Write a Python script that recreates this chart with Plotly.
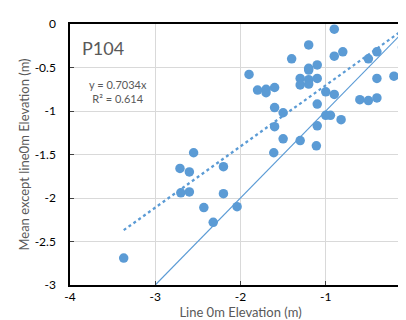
import plotly.graph_objects as go

# Data
line0m_elev = [-0.90, -1.20, -1.40, -0.90, -0.80, -0.50, -0.40, -0.10, -0.01,
               -1.90, -1.20, -1.20, -1.10, -1.30, -1.20, -1.10, -1.30, -1.20,
               -0.40, -0.20, -1.80, -1.70, -1.70, -1.60, -1.00, -0.90, -0.60,
               -0.50, -0.40, -1.60, -1.50, -1.10, -1.00, -0.945, -0.82, -1.60,
               -1.10, -1.50, -1.30, -1.11, -1.61, -2.55, -2.71, -2.60, -2.20,
               -2.70, -2.60, -2.20, -2.43, -2.04, -2.32, -3.37]
mean_except = [-0.06, -0.24, -0.40, -0.37, -0.32, -0.40, -0.32, -0.27, -0.11,
               -0.58, -0.51, -0.53, -0.47, -0.625, -0.64, -0.625, -0.70, -0.69,
               -0.625, -0.60, -0.76, -0.75, -0.79, -0.73, -0.78, -0.81, -0.87,
               -0.88, -0.85, -0.96, -1.02, -0.92, -1.05, -1.05, -1.10, -1.18,
               -1.17, -1.32, -1.34, -1.40, -1.48, -1.48, -1.66, -1.70, -1.64,
               -1.94, -1.93, -1.95, -2.11, -2.10, -2.28, -2.69]

one_to_one_x = [-3, 0]
trend_slope = 0.7034
r_squared = 0.614
site_label = "P104"

x_ticks = [-4, -3, -2, -1, 0]
x_tick_text = ["-4", "-3", "-2", "-1", "0"]
y_ticks = [0, -0.5, -1, -1.5, -2, -2.5, -3]
y_tick_text = ["0", "-0.5", "-1", "-1.5", "-2", "-2.5", "-3"]

blue = "#5B9BD5"
grey_text = "#595959"
font_family = "Lato, Noto Sans, sans-serif"

trend_x = [min(line0m_elev), 0]
trend_y = [trend_slope * v for v in trend_x]

fig = go.Figure()
fig.add_trace(go.Scatter(x=one_to_one_x, y=one_to_one_x, mode="lines",
                         line=dict(color=blue, width=1.2), hoverinfo="skip",
                         showlegend=False))
fig.add_trace(go.Scatter(x=trend_x, y=trend_y, mode="lines",
                         line=dict(color=blue, width=2.2, dash="dot"),
                         hoverinfo="skip", showlegend=False))
fig.add_trace(go.Scatter(x=line0m_elev, y=mean_except, mode="markers",
                         marker=dict(color=blue, size=9.5),
                         cliponaxis=False, showlegend=False))

fig.add_annotation(x=-3.88, y=-0.28, text=site_label, showarrow=False,
                   xanchor="left", font=dict(family=font_family, size=18, color=grey_text))
fig.add_annotation(x=-3.44, y=-0.78, text=f"y = {trend_slope}x<br>R² = {r_squared}",
                   showarrow=False, align="center",
                   font=dict(family=font_family, size=11, color=grey_text))

fig.update_xaxes(range=[-4, 0], tickvals=x_ticks, ticktext=x_tick_text,
                 showgrid=True, gridcolor="#D9D9D9", gridwidth=1,
                 showline=True, linecolor="#000000", linewidth=1.5, mirror=True,
                 ticks="inside", ticklen=4, tickcolor="#404040", zeroline=False,
                 automargin=False,
                 tickfont=dict(family=font_family, size=12, color="#000000"),
                 title=dict(text="Line 0m Elevation (m)", standoff=2,
                            font=dict(family=font_family, size=13, color=grey_text)))
fig.update_yaxes(range=[-3, 0], tickvals=y_ticks, ticktext=y_tick_text,
                 showgrid=True, gridcolor="#D9D9D9", gridwidth=1,
                 showline=True, linecolor="#000000", linewidth=1.5, mirror=True,
                 ticks="inside", ticklen=4, tickcolor="#404040", zeroline=False,
                 ticklabelstandoff=10, automargin=False,
                 tickfont=dict(family=font_family, size=12, color="#000000"),
                 title=dict(text="Mean except line0m Elevation (m)", standoff=2,
                            font=dict(family=font_family, size=13, color=grey_text)))

fig.update_layout(width=406, height=320, plot_bgcolor="white", paper_bgcolor="white",
                  margin=dict(l=62, r=3, t=16, b=43))

fig.write_html("out.html")
